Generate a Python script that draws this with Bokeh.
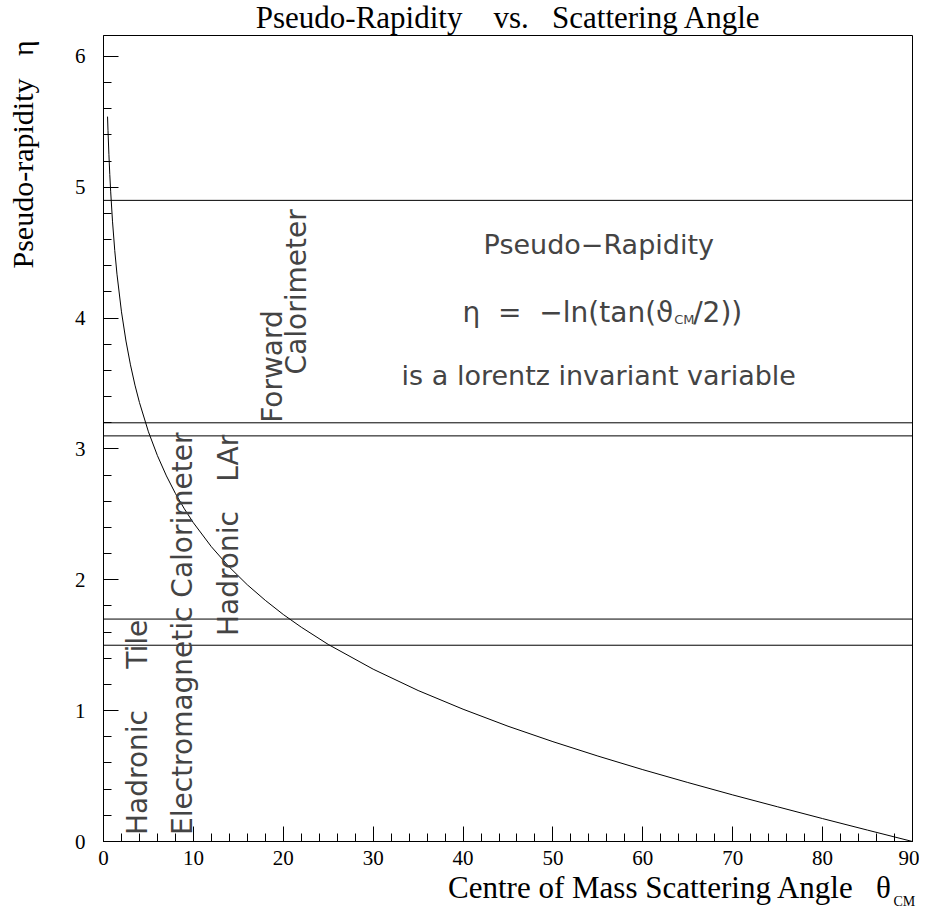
import math
from bokeh.plotting import figure
from bokeh.models import Label, Range1d, SingleIntervalTicker, ColumnDataSource
from bokeh.core.properties import value
from bokeh.embed import file_html
from bokeh.resources import INLINE

# Curve: pseudo-rapidity vs centre-of-mass scattering angle (degrees)
theta = [0.45, 0.5, 0.6, 0.7, 0.8, 1.0, 1.25, 1.5, 2.0, 2.5, 3.0, 3.5, 4.0, 5.0, 6.0,
         7.0, 8.0, 9.0, 10.0, 12.0, 14.0, 16.0, 18.0, 20.0, 22.0, 25.0, 30.0, 35.0,
         40.0, 45.0, 50.0, 55.0, 60.0, 65.0, 70.0, 75.0, 80.0, 85.0, 90.0]
eta = [5.540, 5.435, 5.252, 5.098, 4.965, 4.741, 4.518, 4.336, 4.048, 3.825, 3.643,
       3.488, 3.355, 3.131, 2.949, 2.794, 2.660, 2.542, 2.436, 2.253, 2.097, 1.962,
       1.843, 1.735, 1.638, 1.506, 1.317, 1.154, 1.011, 0.881, 0.763, 0.653, 0.549,
       0.451, 0.356, 0.265, 0.175, 0.087, 0.0]

# Detector region boundaries in eta
boundaries = [4.9, 3.2, 3.1, 1.7, 1.5]

# Detector labels
det_text = ["Hadronic", "Tile", "Electromagnetic Calorimeter", "Hadronic", "LAr",
            "Forward", "Calorimeter"]
det_theta = [3.8, 3.8, 8.8, 13.9, 13.9, 18.8, 21.5]
det_eta = [0.05, 1.32, 0.05, 1.57, 2.75, 3.2, 3.57]

NB = "\u00a0"
title_text = "Pseudo-Rapidity" + NB * 4 + "vs." + NB * 3 + "Scattering Angle"
xlabel_text = "Centre of Mass Scattering Angle" + NB * 3 + "\u03b8"
ylabel_text = "Pseudo-rapidity" + NB * 3 + "\u03b7"
formula_text = "\u03b7" + NB * 2 + "=" + NB * 2 + "\u2212ln(tan(\u03d1"

x_lo, x_hi = 0, 90
y_lo, y_hi = 0, 6.16

p = figure(width=919, height=909, output_backend="svg", toolbar_location=None,
           x_range=Range1d(x_lo, x_hi), y_range=Range1d(y_lo, y_hi),
           min_border_left=103, min_border_right=7, min_border_top=32,
           min_border_bottom=68)
p.background_fill_color = "white"
p.border_fill_color = "white"
p.outline_line_color = "black"
p.outline_line_alpha = 1.0
p.outline_line_width = 1
p.xgrid.visible = False
p.ygrid.visible = False

sans = value("DejaVu Sans")

for ax, tk, standoff in ((p.xaxis[0], SingleIntervalTicker(interval=10, num_minor_ticks=5), 9),
                         (p.yaxis[0], SingleIntervalTicker(interval=1, num_minor_ticks=5), 18)):
    ax.ticker = tk
    ax.major_tick_in = 15
    ax.major_tick_out = 0
    ax.minor_tick_in = 8
    ax.minor_tick_out = 0
    ax.axis_line_color = "black"
    ax.major_tick_line_color = "black"
    ax.minor_tick_line_color = "black"
    ax.major_label_text_font = "Liberation Serif"
    ax.major_label_text_font_size = "21px"
    ax.major_label_text_color = "black"
    ax.major_label_standoff = standoff

# boundaries
p.segment(x0=x_lo, x1=x_hi, y0=boundaries, y1=boundaries, line_color="black", line_width=1)

# curve
p.line(theta, eta, line_color="black", line_width=1)

# detector labels
src = ColumnDataSource(dict(x=det_theta, y=det_eta, t=det_text))
p.text(x="x", y="y", text="t", source=src, angle=math.pi / 2, text_align="left",
       text_baseline="middle", text_font=sans, text_font_size="28px", text_color="#444444")


def add(x, y, text, font, size, align="left", baseline="middle", angle=0.0,
        color="#444444", units="data", place="center", lh=1.2):
    p.add_layout(Label(x=x, y=y, text=text, text_font=font, text_font_size=size,
                       text_align=align, text_baseline=baseline, angle=angle,
                       text_color=color, x_units=units, y_units=units,
                       text_line_height=lh), place)


# explanation block (inside the frame)
add(55.1, 4.56, "Pseudo\u2212Rapidity", "DejaVu Sans", "27px", align="center")
add(63.4, 4.04, formula_text, "DejaVu Sans", "28px", align="right")
add(63.5, 3.99, "CM", "DejaVu Sans", "13px")
add(65.6, 4.04, "/2))", "DejaVu Sans", "28px")
add(55.1, 3.56, "is a lorentz invariant variable", "DejaVu Sans", "27px", align="center")

# title, axis labels: canvas pixels, hosted in side panels so they are not clipped
add(508, 17, title_text, "Liberation Serif", "31px", align="center",
    baseline="alphabetic", color="black", units="canvas", place="above", lh=0.8)
add(892, 887, xlabel_text, "Liberation Serif", "31px", align="right",
    baseline="alphabetic", color="black", units="canvas", place="below", lh=0.8)
add(22, 268, ylabel_text, "Liberation Serif", "30px", align="left",
    baseline="alphabetic", angle=math.pi / 2, color="black", units="canvas",
    place="left", lh=0.8)
add(893, 901, "CM", "Liberation Serif", "14px", baseline="alphabetic",
    color="black", units="canvas", place="left", lh=0.8)

open("out.html", "w").write(file_html(p, INLINE))
